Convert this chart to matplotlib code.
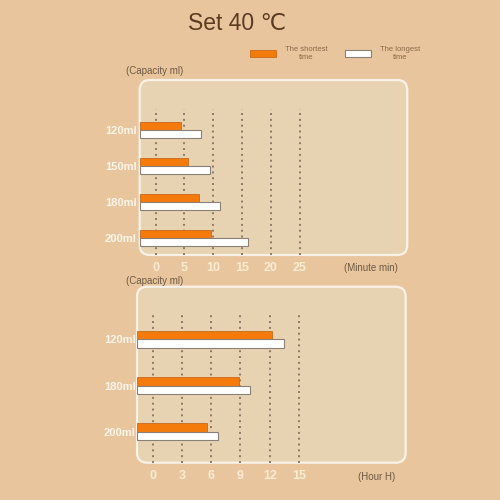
import matplotlib
matplotlib.use('Agg')

import matplotlib.pyplot as plt
import numpy as np
from matplotlib.patches import FancyBboxPatch

# --- data ---
title = "Set 40 \u2103"
minute_caps = ["120ml", "150ml", "180ml", "200ml"]
minute_short = [4.5, 5.6, 7.5, 9.6]
minute_long = [7.8, 9.5, 11.2, 16.1]
minute_ticks = [0, 5, 10, 15, 20, 25]

hour_caps = ["120ml", "180ml", "200ml"]
hour_short = [12.2, 8.9, 5.6]
hour_long = [13.5, 10.0, 6.7]
hour_ticks = [0, 3, 6, 9, 12, 15]

BG = '#e8c59c'
PANEL = '#e7d3b1'
ORANGE = '#f47a0c'
GRID = '#8c7a68'
TICK = '#f9ecd2'
LABEL = '#6e5a46'

plt.rcParams['font.family'] = ['Liberation Sans', 'DejaVu Sans']

fig = plt.figure(figsize=(5, 5), dpi=100, facecolor=BG)


def panel(rect, x_lim, y_lim, caps, short, long_, ticks, bar_h, grid_top, tick_pad, cap_pad):
    left, bottom, width, height = rect
    fig.patches.append(FancyBboxPatch((left, bottom), width, height,
                                      boxstyle="round,pad=0,rounding_size=0.02",
                                      transform=fig.transFigure, facecolor=PANEL,
                                      edgecolor=(1, 1, 1, 0.75), linewidth=1.6, zorder=-1))
    ax = fig.add_axes(rect)
    ax.set_facecolor('none')
    for s in ax.spines.values():
        s.set_visible(False)
    ax.set_xlim(*x_lim)
    ax.set_ylim(*y_lim)

    for t in ticks:
        ax.axvline(t, ymin=0, ymax=grid_top, color=GRID, linestyle=(0, (1, 2)), linewidth=1.4, zorder=1)

    y = np.arange(len(caps))
    x0 = x_lim[0]
    ax.barh(y - bar_h / 2, np.array(short) - x0, left=x0, height=bar_h,
            color=ORANGE, edgecolor='#c96a1a', linewidth=0.6, zorder=2)
    ax.barh(y + bar_h / 2, np.array(long_) - x0, left=x0, height=bar_h,
            color='white', edgecolor='#8a8078', linewidth=0.8, zorder=2)

    ax.set_xticks(ticks)
    ax.set_xticklabels([str(t) for t in ticks], color=TICK, fontsize=9, fontweight='bold')
    ax.set_yticks(y)
    ax.set_yticklabels(caps, color='#fcf5ea', fontsize=8, fontweight='bold')
    ax.tick_params(axis='x', length=0, pad=tick_pad)
    ax.tick_params(axis='y', length=0, pad=cap_pad)
    return ax


ax1 = panel([0.2794, 0.49, 0.5352, 0.35], (-2.74, 43.64), (3.47, -1.39),
            minute_caps, minute_short, minute_long, minute_ticks,
            0.22, 0.834, 5, 2)
ax2 = panel([0.274, 0.0746, 0.5374, 0.352], (-1.61, 25.95), (2.67, -1.14),
            hour_caps, hour_short, hour_long, hour_ticks,
            0.185, 0.839, 5.5, 1)

fig.text(0.474, 0.953, title, ha='center', va='center', fontsize=16.5, color='#5b3c22')
fig.text(0.31, 0.858, "(Capacity ml)", ha='center', va='center', fontsize=7, color=LABEL)
fig.text(0.31, 0.437, "(Capacity ml)", ha='center', va='center', fontsize=7, color=LABEL)
fig.text(0.742, 0.464, "(Minute min)", ha='center', va='center', fontsize=7, color=LABEL)
fig.text(0.754, 0.047, "(Hour H)", ha='center', va='center', fontsize=7, color=LABEL)

handles = ax1.containers
leg = fig.legend(handles, ["The shortest\ntime", "The longest\ntime"], ncol=2,
                 loc='center', bbox_to_anchor=(0.67, 0.893), frameon=False,
                 fontsize=5.5, handlelength=3.4, handleheight=1.1, columnspacing=2.2,
                 handletextpad=1.2)
for t in leg.get_texts():
    t.set_color('#8a6a4a')
    t.set_multialignment('center')

fig.savefig('out.png', dpi=100, facecolor=BG)
